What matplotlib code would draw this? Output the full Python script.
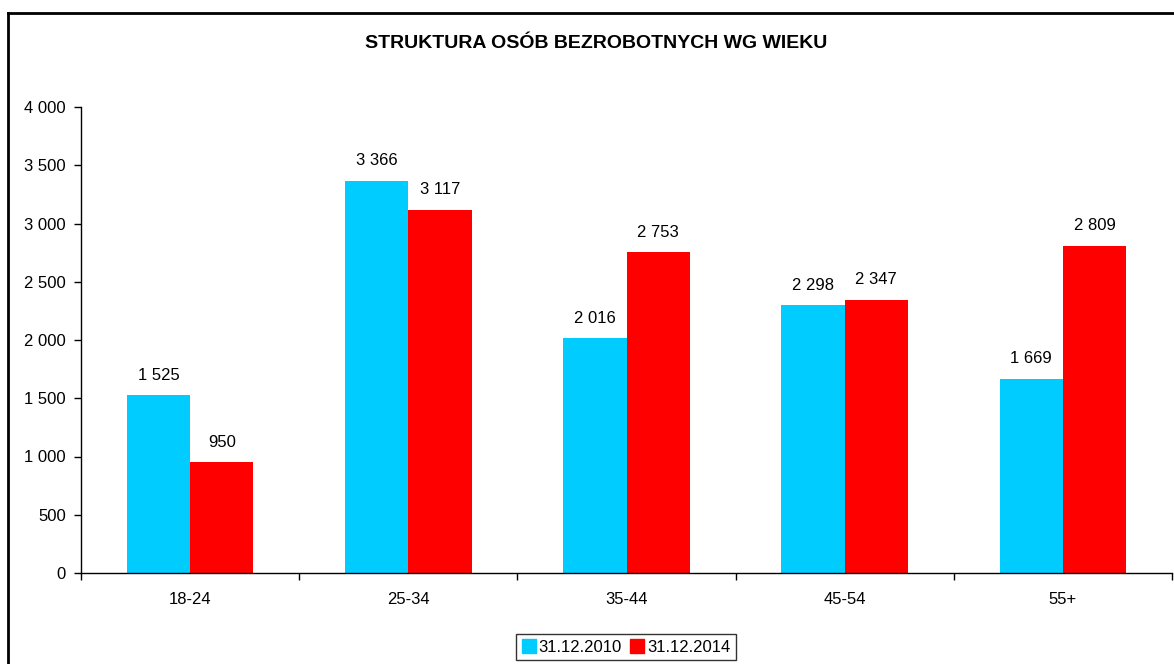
import matplotlib

matplotlib.use("Agg")
import matplotlib.pyplot as plt
import numpy as np
from matplotlib.lines import Line2D
from matplotlib.ticker import FixedLocator, FuncFormatter

categories = ["18-24", "25-34", "35-44", "45-54", "55+"]
series_names = ["31.12.2010", "31.12.2014"]
values_2010 = [1525, 3366, 2016, 2298, 1669]
values_2014 = [950, 3117, 2753, 2347, 2809]
colors = ["#00CCFF", "#FF0000"]

plt.rcParams["font.family"] = ["Liberation Sans", "DejaVu Sans"]


def fmt(v):
    return f"{int(v):,}".replace(",", " ")


fig = plt.figure(figsize=(11.74, 6.64), dpi=100)
ax = fig.add_axes([81 / 1174, 91 / 664, 1091 / 1174, 466 / 664])

x = np.arange(len(categories))
w = 0.29
b1 = ax.bar(x - w / 2, values_2010, w, color=colors[0], label=series_names[0])
b2 = ax.bar(x + w / 2, values_2014, w, color=colors[1], label=series_names[1])
for bars in (b1, b2):
    for r in bars:
        ax.annotate(fmt(r.get_height()), (r.get_x() + r.get_width() / 2, r.get_height()),
                    xytext=(0, 9), textcoords="offset points",
                    ha="center", va="bottom", fontsize=12)

ax.set_xlim(-0.5, len(categories) - 0.5)
ax.set_ylim(0, 4000)
ax.set_yticks(np.arange(0, 4001, 500))
ax.yaxis.set_major_formatter(FuncFormatter(lambda v, _: fmt(v)))
ax.set_xticks(x)
ax.set_xticklabels(categories)
ax.xaxis.set_minor_locator(FixedLocator(np.arange(-0.5, len(categories), 1.0)))
ax.tick_params(axis="x", which="major", length=0, pad=14, labelsize=12)
ax.tick_params(axis="x", which="minor", length=5, direction="out", width=1)
ax.tick_params(axis="y", length=5, direction="out", width=1, labelsize=12, pad=6)
for s in ("top", "right"):
    ax.spines[s].set_visible(False)
for s in ("left", "bottom"):
    ax.spines[s].set_linewidth(1.0)

fig.text(596 / 1174, 1 - 44 / 664, "STRUKTURA OSÓB BEZROBOTNYCH WG WIEKU",
         ha="center", va="center", fontsize=14, fontweight="bold")

handles = [Line2D([0], [0], marker="s", linestyle="", markersize=10, color=c) for c in colors]
leg = fig.legend(handles, series_names, loc="center", bbox_to_anchor=(626 / 1174, 1 - 647 / 664),
                 ncol=2, frameon=True, fontsize=12, handlelength=0.8, handletextpad=0.2,
                 columnspacing=0.5, borderpad=0.35, fancybox=False)
leg.get_frame().set_edgecolor("black")
leg.get_frame().set_linewidth(1.0)

# outer frame (chart area border, cut off at right and bottom)
fig.add_artist(Line2D([8 / 1174, 1.0], [1 - 13 / 664] * 2, color="black", lw=2,
                      transform=fig.transFigure))
fig.add_artist(Line2D([8 / 1174] * 2, [0.0, 1 - 13 / 664], color="black", lw=2,
                      transform=fig.transFigure))

fig.savefig("out.png", dpi=100)
